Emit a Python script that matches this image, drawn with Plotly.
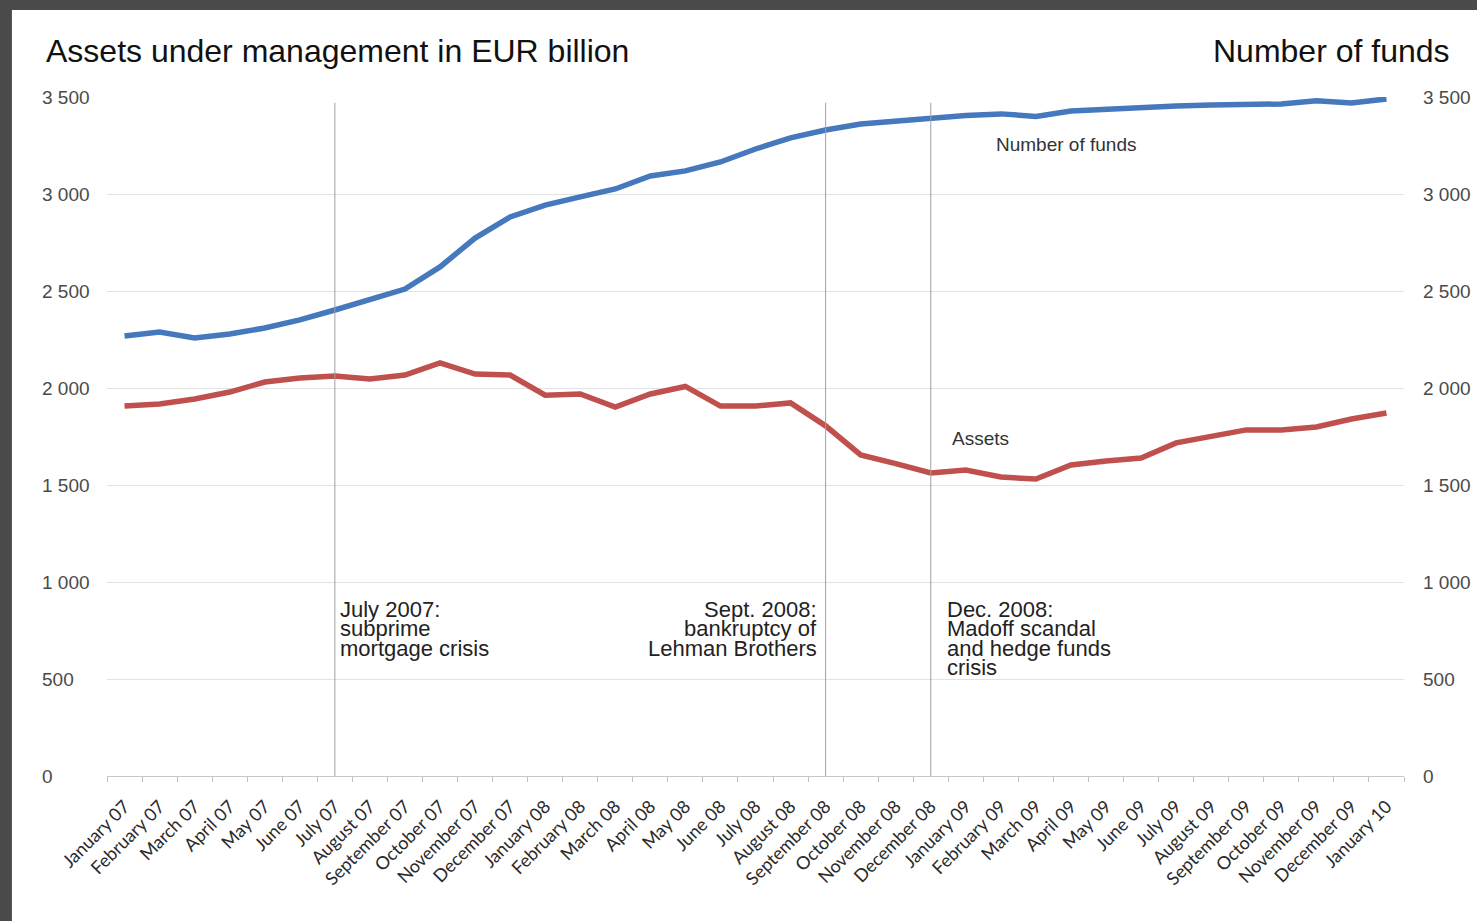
import plotly.graph_objects as go

# Monthly observation dates (category axis)
months = [
    "January 07", "February 07", "March 07", "April 07", "May 07", "June 07",
    "July 07", "August 07", "September 07", "October 07", "November 07", "December 07",
    "January 08", "February 08", "March 08", "April 08", "May 08", "June 08",
    "July 08", "August 08", "September 08", "October 08", "November 08", "December 08",
    "January 09", "February 09", "March 09", "April 09", "May 09", "June 09",
    "July 09", "August 09", "September 09", "October 09", "November 09", "December 09",
    "January 10",
]

# Number of funds (right axis)
number_of_funds = [
    2268, 2289, 2258, 2278, 2309, 2351, 2402, 2459, 2510, 2624, 2773, 2882,
    2943, 2985, 3026, 3093, 3119, 3165, 3232, 3289, 3330, 3361, 3377, 3387,
    3405, 3413, 3400, 3428, 3438, 3449, 3454, 3459, 3464, 3464, 3480, 3469,
    3490,
]

# Assets under management in EUR billion (left axis)
assets = [
    1907, 1918, 1943, 1979, 2031, 2052, 2062, 2047, 2067, 2130, 2072, 2067,
    1963, 1969, 1902, 1969, 2008, 1907, 1907, 1923, 1805, 1655, 1610, 1562,
    1577, 1541, 1531, 1603, 1624, 1639, 1717, 1748, 1784, 1784, 1799, 1840,
    1871,
]

y_ticks = [0, 500, 1000, 1500, 2000, 2500, 3000, 3500]
y_tick_text = [f"{v:,}".replace(",", " ") for v in y_ticks]

# Crisis events: (month, text lines, side of the marker line, horizontal offset)
events = [
    ("July 07", ["July 2007:", "subprime", "mortgage crisis"], "left", 3),
    ("September 08", ["Sept. 2008:", "bankruptcy of", "Lehman Brothers"], "right", -7),
    ("December 08", ["Dec. 2008:", "Madoff scandal", "and hedge funds", "crisis"], "left", 14),
]

BLUE = "#4678be"
RED = "#c0504d"
GRID = "#e2e2e2"
TEXT = "#222222"
TICK = "#4a4a4a"
SANS = "Liberation Sans, Arial"

fig = go.Figure()

fig.add_trace(go.Scatter(
    x=months, y=assets, mode="lines", name="Assets",
    line=dict(color=RED, width=5.5), yaxis="y",
))
fig.add_trace(go.Scatter(
    x=months, y=number_of_funds, mode="lines", name="Number of funds",
    line=dict(color=BLUE, width=5.5), yaxis="y2",
))

# White card on dark frame
fig.add_shape(type="rect", xref="paper", yref="paper",
              x0=-0.0733, x1=1.2, y0=-0.4, y1=1.1281,
              fillcolor="white", line=dict(width=0), layer="below")

# Event marker lines
for month, _, _, _ in events:
    i = months.index(month)
    fig.add_shape(type="line", xref="x", yref="y",
                  x0=i, x1=i, y0=0, y1=3470,
                  line=dict(color="#a0a0a0", width=1), layer="above")

annotations = []
for month, lines, side, dx in events:
    i = months.index(month)
    for k, txt in enumerate(lines):
        annotations.append(dict(
            xref="x", yref="y", x=i, y=1000,
            text=txt, showarrow=False,
            xanchor="left" if side == "left" else "right",
            yanchor="middle",
            xshift=dx,
            yshift=-(27 + 19.5 * k),
            font=dict(family=SANS, size=22, color=TEXT),
        ))

# Left and right axis value labels, left-aligned
for v, t in zip(y_ticks, y_tick_text):
    for px in (40, 1421):
        annotations.append(dict(
            xref="paper", yref="y", x=(px - 107) / 1297, y=v, text=t,
            showarrow=False, xanchor="left", yanchor="middle",
            font=dict(family=SANS, size=19, color=TICK),
        ))

# Axis titles
annotations.append(dict(
    xref="paper", yref="paper", x=(44 - 107) / 1297, y=(776 - 51) / 679,
    text="Assets under management in EUR billion", showarrow=False,
    xanchor="left", yanchor="middle",
    font=dict(family=SANS, size=32, color="#111111"),
))
annotations.append(dict(
    xref="paper", yref="paper", x=(1452 - 107) / 1297, y=(776 - 51) / 679,
    text="Number of funds", showarrow=False,
    xanchor="right", yanchor="middle",
    font=dict(family=SANS, size=32, color="#111111"),
))

# Series labels
annotations.append(dict(
    xref="paper", yref="y2", x=(1066 - 107) / 1297, y=3253,
    text="Number of funds", showarrow=False, xanchor="center", yanchor="middle",
    font=dict(family=SANS, size=19, color="#333333"),
))
annotations.append(dict(
    xref="paper", yref="y", x=(980 - 107) / 1297, y=1742,
    text="Assets", showarrow=False, xanchor="center", yanchor="middle",
    font=dict(family=SANS, size=19, color="#333333"),
))

fig.update_layout(
    width=1477, height=921,
    margin=dict(l=107, r=73, t=97, b=145),
    paper_bgcolor="#4b4b4b",
    plot_bgcolor="rgba(0,0,0,0)",
    showlegend=False,
    annotations=annotations,
    xaxis=dict(
        type="category", categoryorder="array", categoryarray=months,
        range=[-0.5, len(months) - 0.5],
        tickson="boundaries", ticks="outside", ticklen=5, tickcolor="#c0c0c0",
        showline=True, linecolor="#c8c8c8", linewidth=1,
        showgrid=False, tickangle=-45,
        tickfont=dict(family="Lato", size=18, color="#2a2a2a"),
        ticklabelstandoff=12,
    ),
    yaxis=dict(
        range=[0, 3500], tickvals=y_ticks, showticklabels=False,
        showgrid=True, gridcolor=GRID, gridwidth=1,
        zeroline=False, showline=False, ticks="",
    ),
    yaxis2=dict(
        range=[0, 3500], tickvals=y_ticks, showticklabels=False,
        overlaying="y", side="right", showgrid=False,
        zeroline=False, showline=False, ticks="",
    ),
)

fig.write_html("out.html")
